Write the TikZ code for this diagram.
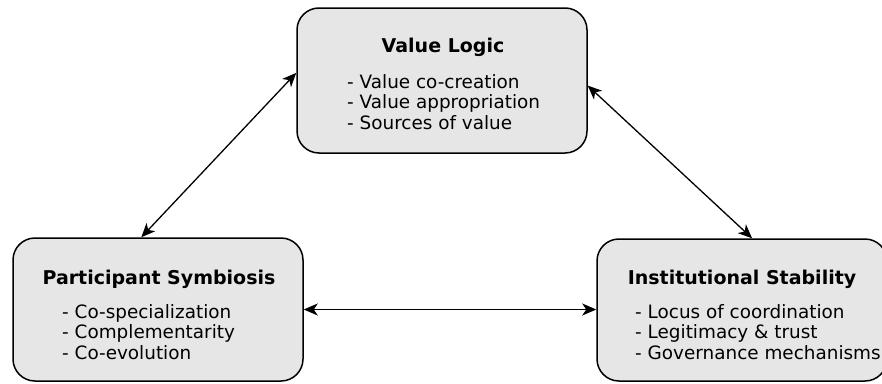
\documentclass[tikz,border=0pt]{standalone}
\usepackage{fontspec}
\setmainfont{DejaVu Sans}
\usetikzlibrary{arrows.meta}
\definecolor{boxfill}{RGB}{230,230,230}
\begin{document}
\begin{tikzpicture}[x=1pt,y=-1pt,
  box/.style={draw=black, line width=1.5pt, fill=boxfill, rounded corners=22pt,
    inner sep=0pt, minimum width=290pt},
  title/.style={anchor=base, inner sep=0pt, font=\fontsize{19}{22}\selectfont\bfseries},
  item/.style={anchor=base west, inner sep=0pt, font=\fontsize{18.4}{20}\selectfont},
  link/.style={line width=1.3pt, {Stealth[length=14pt,width=12pt,inset=4pt]}-{Stealth[length=14pt,width=12pt,inset=4pt]}}]
\useasboundingbox (0,0) rectangle (882,383);

% the three building blocks
\node[box, minimum height=145pt] (vl) at (442,80.5) {};
\node[box, minimum height=143pt] (ps) at (158,309.5) {};
\node[box, minimum height=142pt] (is) at (742,310) {};

% Value Logic
\node[title] (vlt) at (443,52) {Value Logic};
\node[item] (vl1) at (347,88) {- Value co-creation};
\node[item] (vl2) at (347,108.5) {- Value appropriation};
\node[item] (vl3) at (347,129) {- Sources of value};

% Participant Symbiosis
\node[title] (pst) at (159,284) {Participant Symbiosis};
\node[item] (ps1) at (62,318) {- Co-specialization};
\node[item] (ps2) at (62,338.5) {- Complementarity};
\node[item] (ps3) at (62,359) {- Co-evolution};

% Institutional Stability
\node[title] (ist) at (742,284) {Institutional Stability};
\node[item] (is1) at (635,318) {- Locus of coordination};
\node[item] (is2) at (635,338.5) {- Legitimacy \& trust};
\node[item] (is3) at (635,359) {- Governance mechanisms};

% mutual relations
\draw[link] (ps.103) -- (vl.177);
\draw[link] (vl.-2) -- (is.82);
\draw[link] (ps.east) -- (ps.east -| is.west);
\end{tikzpicture}
\end{document}
